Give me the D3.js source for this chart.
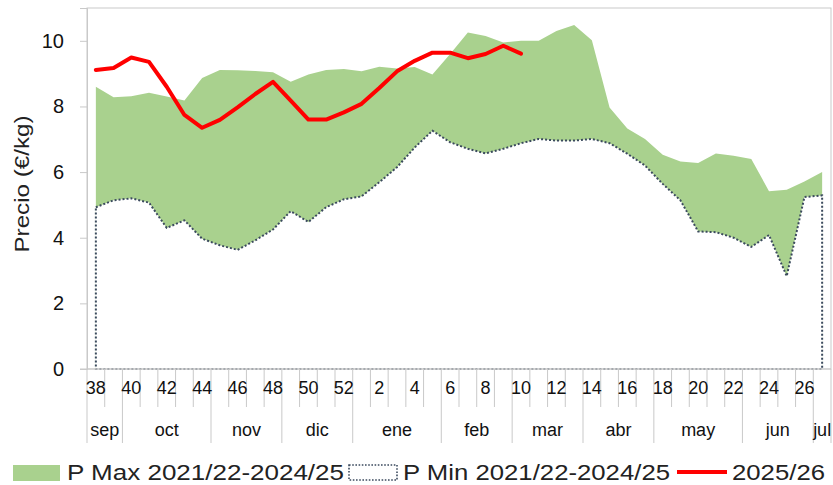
<!DOCTYPE html>
<html>
<head>
<meta charset="utf-8">
<script src="https://cdn.jsdelivr.net/npm/d3@7"></script>
<style>
  body { margin: 0; background: #fff; }
  svg { display: block; font-family: "Liberation Sans", Arial, sans-serif; }
</style>
</head>
<body>
<svg width="833" height="485"></svg>
<script>
"use strict";

// weeks of the campaign (sep -> jul)
var weeks = [38, 39, 40, 41, 42, 43, 44, 45, 46, 47, 48, 49, 50, 51, 52,
  1, 2, 3, 4, 5, 6, 7, 8, 9, 10, 11, 12, 13, 14, 15, 16, 17, 18, 19, 20,
  21, 22, 23, 24, 25, 26, 27];

var pMax = [8.60, 8.28, 8.31, 8.42, 8.30, 8.18, 8.87, 9.11, 9.10, 9.08, 9.04,
  8.75, 8.97, 9.11, 9.14, 9.07, 9.21, 9.16, 9.20, 8.97, 9.60, 10.25, 10.15,
  9.95, 10.00, 10.00, 10.30, 10.48, 10.02, 7.97, 7.33, 7.01, 6.53, 6.32,
  6.28, 6.57, 6.50, 6.40, 5.42, 5.46, 5.71, 6.00];

var pMin = [4.93, 5.14, 5.20, 5.07, 4.30, 4.53, 3.97, 3.77, 3.63, 3.92, 4.25,
  4.81, 4.48, 4.93, 5.17, 5.26, 5.69, 6.15, 6.75, 7.26, 6.91, 6.71, 6.57,
  6.71, 6.88, 7.01, 6.96, 6.96, 7.01, 6.88, 6.56, 6.20, 5.64, 5.14, 4.19,
  4.17, 4.00, 3.72, 4.08, 2.83, 5.24, 5.29];

var cur = [9.11, 9.17, 9.49, 9.36, 8.60, 7.74, 7.35, 7.59, 7.97, 8.38, 8.75,
  8.18, 7.60, 7.60, 7.82, 8.08, 8.56, 9.07, 9.39, 9.64, 9.64, 9.47, 9.60,
  9.85, 9.61];

var months = ["sep", "oct", "nov", "dic", "ene", "feb", "mar", "abr", "may", "jun", "jul"];
var monthStart = [38, 40, 45, 49, 1, 6, 10, 14, 18, 23, 27];

var yTicks = [0, 2, 4, 6, 8, 10];

var svg = d3.select("svg");
var pLeft = 87, pRight = 831, pTop = 8, pBottom = 369;

var x = d3.scaleBand().domain(weeks).range([pLeft, pRight]);
var y = d3.scaleLinear().domain([0, 11]).range([pBottom, pTop]);
var cx = function (w) { return x(w) + x.bandwidth() / 2; };

var gridCol = "#c9c9c9";
var dotCol = "#3b4a5e";

// max area (green)
svg.append("path")
  .datum(pMax)
  .attr("fill", "#a9d18e")
  .attr("d", d3.area()
    .x(function (d, i) { return cx(weeks[i]); })
    .y0(y(0))
    .y1(function (d) { return y(d); }));

// min area (white with dotted border)
svg.append("path")
  .datum(pMin)
  .attr("fill", "#fff")
  .attr("stroke", dotCol)
  .attr("stroke-width", 2)
  .attr("stroke-dasharray", "2,2")
  .attr("d", d3.area()
    .x(function (d, i) { return cx(weeks[i]); })
    .y0(y(0))
    .y1(function (d) { return y(d); }));

// frame
svg.append("rect")
  .attr("x", pLeft).attr("y", pTop)
  .attr("width", pRight - pLeft).attr("height", pBottom - pTop)
  .attr("fill", "none").attr("stroke", gridCol).attr("stroke-width", 1);

// y axis
var yAxis = svg.append("g")
  .attr("transform", "translate(" + pLeft + ",0)")
  .call(d3.axisLeft(y).tickValues(yTicks).tickSize(7).tickPadding(16));
yAxis.select(".domain").attr("stroke", gridCol);
yAxis.selectAll(".tick line").attr("stroke", gridCol);
yAxis.selectAll("text").attr("font-size", 20).attr("fill", "#111").attr("font-family", "Liberation Sans, Arial, sans-serif");

svg.append("text")
  .attr("transform", "translate(29,184) rotate(-90)")
  .attr("text-anchor", "middle")
  .attr("font-size", 21)
  .attr("fill", "#222")
  .attr("textLength", 137)
  .attr("lengthAdjust", "spacingAndGlyphs")
  .text("Precio (€/kg)");

// x axis line
svg.append("line")
  .attr("x1", pLeft - 7).attr("x2", pRight)
  .attr("y1", pBottom).attr("y2", pBottom)
  .attr("stroke", gridCol);

// week boundaries and month boundaries
var bounds = weeks.map(function (w) { return x(w); }).concat([pRight]);
svg.append("g").selectAll("line")
  .data(bounds)
  .join("line")
  .attr("x1", function (d) { return d; })
  .attr("x2", function (d) { return d; })
  .attr("y1", pBottom)
  .attr("y2", function (d, i) {
    var isMonth = i === weeks.length || monthStart.indexOf(weeks[i]) >= 0;
    return isMonth ? 443 : 407;
  })
  .attr("stroke", gridCol);

// week labels
var xAxis = svg.append("g")
  .attr("transform", "translate(0," + pBottom + ")")
  .call(d3.axisBottom(x)
    .tickValues(weeks.filter(function (w) { return w % 2 === 0; }))
    .tickSize(0).tickPadding(12));
xAxis.select(".domain").remove();
xAxis.selectAll("text").attr("font-size", 18).attr("fill", "#111").attr("font-family", "Liberation Sans, Arial, sans-serif");

// month labels
svg.append("g").selectAll("text")
  .data(months)
  .join("text")
  .attr("x", function (d, i) {
    var a = x(monthStart[i]);
    var b = i < months.length - 1 ? x(monthStart[i + 1]) : pRight;
    return (a + b) / 2;
  })
  .attr("y", 436)
  .attr("text-anchor", "middle")
  .attr("font-size", 18)
  .attr("fill", "#111")
  .text(function (d) { return d; });

// current campaign line
svg.append("path")
  .datum(cur)
  .attr("fill", "none")
  .attr("stroke", "#ff0000")
  .attr("stroke-width", 4)
  .attr("stroke-linejoin", "round")
  .attr("stroke-linecap", "round")
  .attr("d", d3.line()
    .x(function (d, i) { return cx(weeks[i]); })
    .y(function (d) { return y(d); }));

// legend
var lg = svg.append("g").attr("font-size", 22).attr("fill", "#222");
lg.append("rect").attr("x", 13).attr("y", 465).attr("width", 47).attr("height", 16).attr("fill", "#a9d18e");
lg.append("text").attr("x", 67).attr("y", 480).attr("textLength", 277)
  .attr("lengthAdjust", "spacingAndGlyphs").text("P Max 2021/22-2024/25");
lg.append("rect").attr("x", 349).attr("y", 465).attr("width", 48).attr("height", 15)
  .attr("fill", "#fff").attr("stroke", dotCol).attr("stroke-width", 1.6).attr("stroke-dasharray", "1.6,1.6");
lg.append("text").attr("x", 403).attr("y", 480).attr("textLength", 267)
  .attr("lengthAdjust", "spacingAndGlyphs").text("P Min 2021/22-2024/25");
lg.append("line").attr("x1", 677).attr("x2", 727).attr("y1", 472).attr("y2", 472)
  .attr("stroke", "#ff0000").attr("stroke-width", 4);
lg.append("text").attr("x", 732).attr("y", 480).attr("textLength", 93)
  .attr("lengthAdjust", "spacingAndGlyphs").text("2025/26");
</script>
</body>
</html>
